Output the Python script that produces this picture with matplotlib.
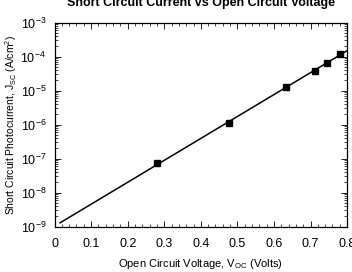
import matplotlib

matplotlib.use("Agg")
import matplotlib.pyplot as plt
from matplotlib.ticker import AutoMinorLocator, LogLocator, NullFormatter

plt.rcParams["font.family"] = ["Liberation Sans", "DejaVu Sans"]
plt.rcParams["mathtext.fontset"] = "custom"
plt.rcParams["mathtext.rm"] = "Liberation Sans"
plt.rcParams["mathtext.it"] = "Liberation Sans"
plt.rcParams["mathtext.default"] = "regular"

# measured points
voc = [0.281, 0.477, 0.632, 0.711, 0.746, 0.782]
jsc = [7.6e-8, 1.1e-6, 1.3e-5, 3.9e-5, 6.5e-5, 1.2e-4]

# fitted line endpoints
fit_v = [0.015, 0.80]
fit_j = [1.3e-9, 1.5e-4]

xticks = [0, 0.1, 0.2, 0.3, 0.4, 0.5, 0.6, 0.7, 0.8]
xticklabels = ["0", "0.1", "0.2", "0.3", "0.4", "0.5", "0.6", "0.7", "0.8"]

fig = plt.figure(figsize=(3.52, 2.72), dpi=100)
ax = fig.add_axes([0.155, 0.1665, 0.831, 0.75])

ax.plot(fit_v, fit_j, color="black", lw=1.1, zorder=2)
ax.plot(voc, jsc, ls="", marker="s", ms=4.5, color="black", zorder=3)

ax.set_yscale("log")
ax.set_xlim(0, 0.8)
ax.set_ylim(1e-9, 1e-3)
ax.set_xticks(xticks)
ax.set_xticklabels(xticklabels)
ax.xaxis.set_minor_locator(AutoMinorLocator(5))
ax.yaxis.set_major_locator(LogLocator(base=10, numticks=10))
ax.yaxis.set_minor_locator(LogLocator(base=10, subs=range(2, 10), numticks=10))
ax.yaxis.set_minor_formatter(NullFormatter())
ax.tick_params(which="both", direction="in", top=True, right=True, labelsize=9)
ax.tick_params(axis="x", which="major", pad=8)
ax.tick_params(axis="y", which="major", pad=6)
ax.tick_params(which="major", length=4, width=0.6)
ax.tick_params(which="minor", length=2, width=0.5)
for s in ax.spines.values():
    s.set_linewidth(0.9)

ax.set_xlabel("Open Circuit Voltage, V$_{OC}$ (Volts)", fontsize=8, labelpad=5)
ax.set_ylabel("Short Circuit Photocurrent, J$_{SC}$ (A/cm$^2$)", fontsize=7.5, labelpad=1)
fig.text(0.57, 0.988, "Short Circuit Current vs Open Circuit Voltage",
         ha="center", va="center", fontsize=9, fontweight="bold")

fig.savefig("out.png", dpi=100)
